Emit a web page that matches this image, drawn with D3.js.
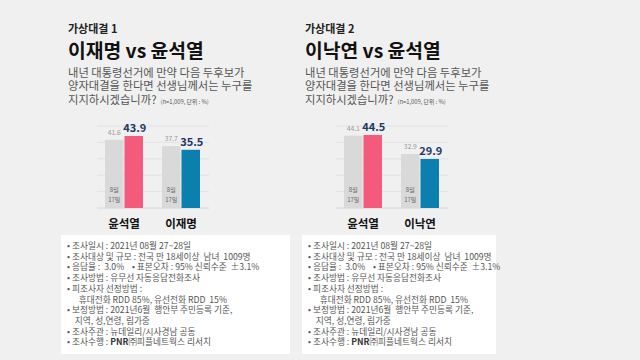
<!DOCTYPE html>
<html><head><meta charset="utf-8">
<script src="https://cdn.jsdelivr.net/npm/d3@7"></script>
<style>
body{margin:0;background:#f0f0f0;}
svg{display:block;font-family:"Noto Sans CJK KR","Noto Sans",sans-serif;}
</style></head><body>
<svg id="c" width="640" height="360"></svg>
<script>
// ---- data ----
const subtitles = ["가상대결 1", "가상대결 2"];
const titles = ["이재명 vs 윤석열", "이낙연 vs 윤석열"];
const questionLines = ["내년 대통령선거에 만약 다음 두후보가", "양자대결을 한다면 선생님께서는 누구를", "지지하시겠습니까?"];
const note = "(n=1,009, 단위 : %)";
const categories1 = ["윤석열", "이재명"];
const categories2 = ["윤석열", "이낙연"];
const previous1 = [41.6, 37.7];   // 8월 17일
const current1 = [43.9, 35.5];
const previous2 = [44.1, 32.9];
const current2 = [44.5, 29.9];
const prevLabel = ["8월", "17일"];
const yTicks = [0, 10, 20, 30, 40, 50];
const infoLines = [
  "• 조사일시 : 2021년 08월 27~28일",
  "• 조사대상 및 규모 : 전국 만 18세이상  남녀  1009명",
  "• 응답율 :  3.0%    • 표본오차 : 95% 신뢰수준  ±3.1%",
  "• 조사방법 : 유무선 자동응답전화조사",
  "• 피조사자 선정방법 :",
  "      휴대전화 RDD 85%, 유선전화 RDD  15%",
  "• 보정방법 : 2021년6월  행안부 주민등록 기준,",
  "    지역, 성,연령, 림가중",
  "• 조사주관 : 뉴데일리/시사경남 공동",
  "• 조사수행 : PNR㈜피플네트웍스 리서치"
];

const svg = d3.select("#c");
svg.append("rect").attr("width",640).attr("height",360).attr("fill","#f0f0f0");

const panels = [
  {x0:68, cats:categories1, prev:previous1, cur:current1, sub:subtitles[0], title:titles[0],
   bandRange:[105,200], gridRange:[97,209], box:[61,235,229,119], colors:["#f35a7b","#0b7fae"]},
  {x0:305, cats:categories2, prev:previous2, cur:current2, sub:subtitles[1], title:titles[1],
   bandRange:[344,439], gridRange:[336,448], box:[302,235,194,119], colors:["#f35a7b","#0b7fae"]}
];

const y = d3.scaleLinear().domain([0,50]).range([208,126]);

panels.forEach(p=>{
  const g = svg.append("g");
  g.append("text").attr("x",p.x0).attr("y",32.5).attr("font-size",11).attr("font-weight",700)
    .attr("fill","#222").text(p.sub);
  g.append("text").attr("x",p.x0).attr("y",58).attr("font-size",19.3).attr("font-weight",700)
    .attr("fill","#111").text(p.title);
  const q = g.append("text").attr("x",p.x0).attr("y",77).attr("font-size",11.3).attr("fill","#555");
  questionLines.forEach((l,i)=>{
    q.append("tspan").attr("x",p.x0).attr("dy",i===0?0:13.4).text(l);
  });
  q.append("tspan").attr("font-size",5.8).attr("dx",4).text(note);

  // grid
  g.selectAll("line.grid").data(yTicks).join("line")
    .attr("x1",p.gridRange[0]).attr("x2",p.gridRange[1])
    .attr("y1",d=>y(d)).attr("y2",d=>y(d))
    .attr("stroke",d=>d===0?"#d0d0d0":"#dedede").attr("stroke-width",0.8);

  const x0 = d3.scaleBand().domain(p.cats).range(p.bandRange).paddingInner(1/3).paddingOuter(0);
  const x1 = d3.scaleBand().domain(["prev","cur"]).range([0,x0.bandwidth()]).paddingInner(0.05);

  p.cats.forEach((c,i)=>{
    const gx = x0(c);
    g.append("rect").attr("x",gx+x1("prev")).attr("width",x1.bandwidth())
      .attr("y",y(p.prev[i])).attr("height",y(0)-y(p.prev[i])).attr("fill","#d9d9d9");
    g.append("rect").attr("x",gx+x1("cur")).attr("width",x1.bandwidth())
      .attr("y",y(p.cur[i])).attr("height",y(0)-y(p.cur[i])).attr("fill",p.colors[i]);
    g.append("text").attr("x",gx+x1("prev")+x1.bandwidth()/2).attr("y",y(p.prev[i])-5)
      .attr("text-anchor","middle").attr("font-size",6.8).attr("fill","#9a9a9a").text(p.prev[i].toFixed(1));
    g.append("text").attr("x",gx+x1("cur")+x1.bandwidth()/2+1).attr("y",y(p.cur[i])-4)
      .attr("text-anchor","middle").attr("font-size",11).attr("font-weight",700).attr("fill","#1f3864").text(p.cur[i].toFixed(1));
    const pl = g.append("text").attr("x",gx+x1("prev")+x1.bandwidth()/2).attr("y",192)
      .attr("text-anchor","middle").attr("font-size",6).attr("fill","#666");
    prevLabel.forEach((t,k)=>{
      pl.append("tspan").attr("x",gx+x1("prev")+x1.bandwidth()/2).attr("dy",k===0?0:10).text(t);
    });
    g.append("text").attr("x",gx+x0.bandwidth()/2).attr("y",228).attr("text-anchor","middle")
      .attr("font-size",11.5).attr("font-weight",700).attr("fill","#111").text(c);
  });

  // info box
  g.append("rect").attr("x",p.box[0]).attr("y",p.box[1]).attr("width",p.box[2]).attr("height",p.box[3])
    .attr("fill","#ffffff");
  const info = g.append("text").attr("x",p.box[0]+6).attr("y",249).attr("font-size",8.7)
    .attr("fill","#555").attr("xml:space","preserve").style("white-space","pre");
  infoLines.forEach((l,i)=>{
    const dy = i===0?0:10.7;
    if(l.includes("PNR")){
      const parts = l.split("PNR");
      info.append("tspan").attr("x",p.box[0]+6).attr("dy",dy).text(parts[0]);
      info.append("tspan").attr("font-weight",700).attr("fill","#333").text("PNR");
      info.append("tspan").text(parts[1]);
    } else info.append("tspan").attr("x",p.box[0]+6).attr("dy",dy).text(l);
  });
});
</script></body></html>
